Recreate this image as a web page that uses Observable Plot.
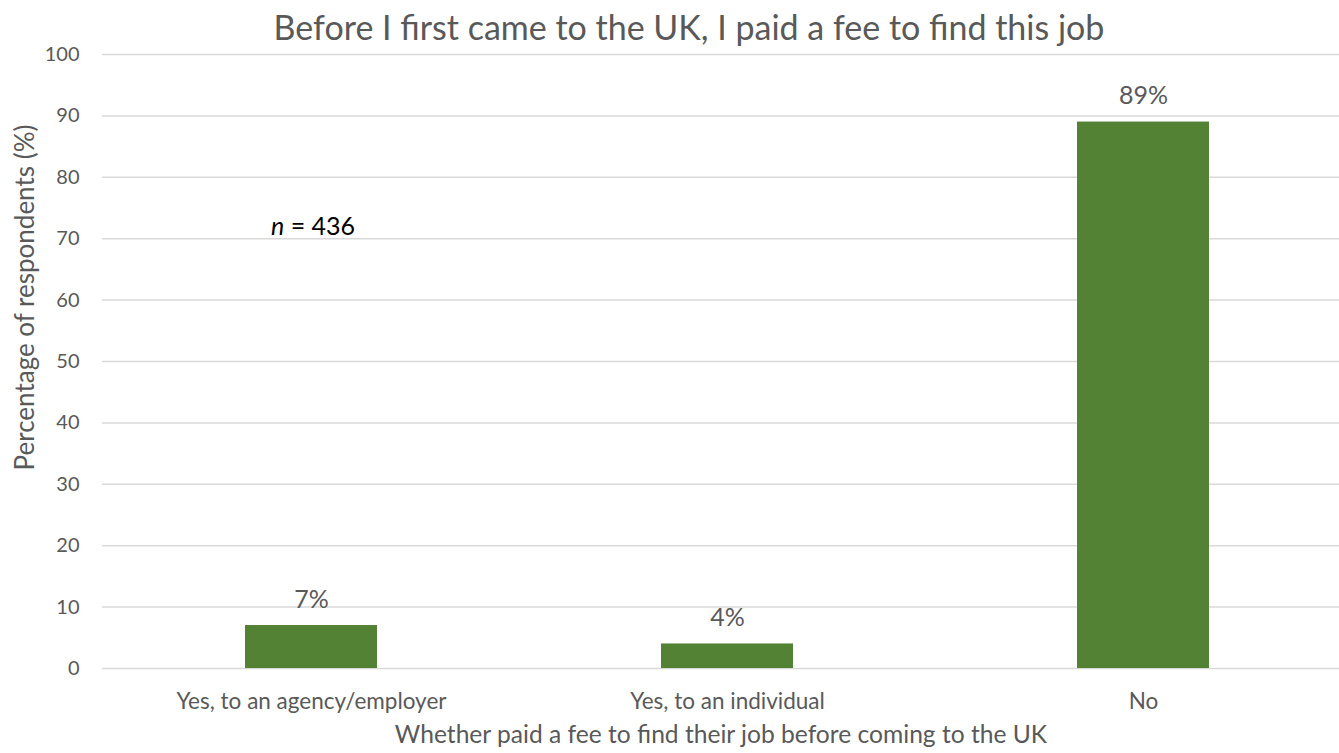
<!DOCTYPE html>
<html><head><meta charset="utf-8">
<script src="https://cdn.jsdelivr.net/npm/d3@7"></script>
<script src="https://cdn.jsdelivr.net/npm/@observablehq/plot@0.6"></script>
<style>
body{margin:0;background:#fff;font-family:Lato,"Open Sans",sans-serif;}
#title{height:34px;position:relative;}
#title span{position:absolute;left:39px;right:0;top:10px;text-align:center;font-size:34px;line-height:34px;color:#595959;white-space:nowrap;}
#chart svg{overflow:visible;display:block;}
</style></head>
<body>
<div id="title"><span>Before I first came to the UK, I paid a fee to find this job</span></div>
<div id="chart"></div>
<script>
const categories = ["Yes, to an agency/employer", "Yes, to an individual", "No"];
const percentages = [7, 4, 89];
const yTicks = [0,10,20,30,40,50,60,70,80,90,100];
const nLabel = "436";

const data = categories.map((c,i)=>({cat:c, value:percentages[i]}));
const gray = "#595959";

const plot = Plot.plot({
  width: 1339,
  height: 719,
  marginTop: 20,
  marginBottom: 85,
  marginLeft: 102,
  marginRight: 0,
  style: {fontFamily: "Lato, 'Open Sans', sans-serif", fontSize: "20px", color: gray, background: "#fff", overflow: "visible"},
  x: {domain: categories, range: [102, 1351], padding: 0, label: null},
  y: {domain: [0,100], ticks: yTicks, label: null},
  marks: [
    Plot.ruleY(yTicks, {stroke: "#d9d9d9", strokeWidth: 1.5}),
    Plot.barY(data, {x: "cat", y: "value", fill: "#548235", insetLeft: 142, insetRight: 142}),
    Plot.text(data, {x: "cat", y: "value", text: d => d.value + "%", dy: -26, fill: gray, fontSize: 25}),
    Plot.axisY(yTicks, {tickSize: 0, tickPadding: 23, fontSize: 20, fill: gray, label: null}),
    Plot.axisX(categories, {tickSize: 0, tickPadding: 25, fontSize: 22.5, fill: gray, label: null}),
    Plot.text(["Whether paid a fee to find their job before coming to the UK"], {frameAnchor: "bottom", lineAnchor: "middle", dy: 67, fontSize: 24.6, fill: gray}),
    Plot.text(["Percentage of respondents (%)"], {frameAnchor: "left", textAnchor: "middle", lineAnchor: "middle", dx: -77, dy: -64, rotate: -90, fontSize: 26, fill: gray})
  ]
});
document.getElementById("chart").appendChild(plot);

// n annotation as real text with italic n
const svg = d3.select(plot);
const yS = plot.scale("y");
const t = svg.append("text")
  .attr("x", 271).attr("y", yS.apply(72))
  .attr("dy", "0.35em")
  .attr("text-anchor", "start")
  .attr("font-size", 25).attr("fill", "#000")
  .attr("font-family", "Lato, 'Open Sans', sans-serif");
t.append("tspan").attr("font-style", "italic").text("n");
t.append("tspan").text(" = " + nLabel);
</script>
</body></html>
